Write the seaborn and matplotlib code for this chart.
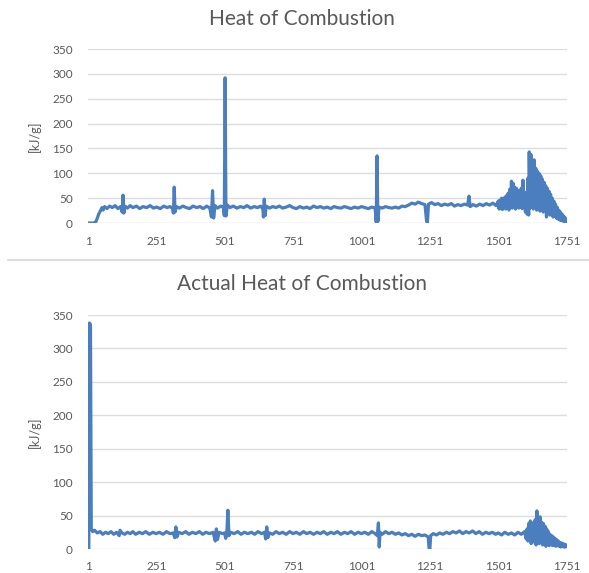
import matplotlib
matplotlib.use("Agg")
import matplotlib.pyplot as plt
from matplotlib.lines import Line2D
import pandas as pd
import seaborn as sns

# ---- data: sample number vs. heat of combustion [kJ/g] ----
heat_x = [1, 10, 20, 28, 34, 40, 46, 52, 56, 62, 70, 80, 90, 100, 110, 120, 126, 129, 132, 136,
          145, 155, 165, 178, 190, 202, 215, 228, 240, 252, 265, 278, 290, 300, 310, 313, 316, 319, 324,
          335, 348, 360, 372, 385, 398, 410, 422, 435, 446, 452, 456, 460, 465, 474, 486, 496, 499, 502,
          505, 510, 520, 532, 545, 558, 570, 582, 595, 608, 620, 632, 640, 642, 645, 648, 652, 664, 676,
          688, 700, 712, 725, 738, 750, 762, 775, 788, 800, 812, 825, 838, 850, 862, 875, 888, 900, 912,
          925, 938, 950, 962, 975, 988, 1000, 1012, 1025, 1038, 1050, 1054, 1057, 1060, 1064, 1076, 1088,
          1100, 1112, 1124, 1136, 1148, 1160, 1172, 1184, 1196, 1208, 1220, 1232, 1238, 1241, 1245, 1256,
          1268, 1280, 1292, 1304, 1316, 1328, 1340, 1352, 1364, 1376, 1388, 1393, 1397, 1408, 1420, 1432,
          1444, 1456, 1468, 1480, 1492, 1500, 1503, 1506, 1509, 1512, 1515, 1518, 1521, 1524, 1527, 1530,
          1533, 1536, 1539, 1542, 1545, 1548, 1551, 1554, 1557, 1560, 1563, 1566, 1569, 1572, 1575, 1578,
          1581, 1584, 1587, 1590, 1593, 1596, 1599, 1602, 1605, 1608, 1611, 1613, 1616, 1619, 1622, 1625,
          1628, 1631, 1634, 1637, 1640, 1643, 1646, 1649, 1652, 1655, 1658, 1661, 1664, 1667, 1670, 1673,
          1676, 1679, 1682, 1685, 1688, 1691, 1694, 1697, 1700, 1703, 1706, 1709, 1712, 1715, 1718, 1721,
          1724, 1727, 1730, 1733, 1736, 1739, 1742, 1745, 1748, 1751]
heat_y = [0, 0, 0, 1, 8, 18, 24, 31, 26, 33, 29, 34, 31, 35, 29, 33, 22, 56, 20, 34,
          30, 35, 31, 34, 29, 33, 31, 35, 30, 32, 29, 34, 31, 33, 30, 20, 72, 22, 33,
          30, 34, 31, 29, 34, 31, 33, 29, 34, 30, 12, 65, 10, 35, 30, 34, 31, 15, 292,
          14, 36, 31, 34, 30, 33, 31, 35, 30, 33, 31, 34, 28, 12, 48, 15, 34, 30, 33,
          31, 34, 30, 32, 35, 31, 29, 33, 30, 32, 29, 34, 31, 33, 30, 32, 29, 33, 31,
          30, 33, 31, 29, 32, 30, 33, 31, 29, 32, 30, 2, 135, 3, 32, 30, 33,
          31, 30, 32, 30, 34, 33, 36, 40, 38, 42, 39, 37, 4, 1, 38, 41,
          37, 39, 35, 38, 36, 39, 34, 37, 35, 38, 36, 54, 33, 37, 34, 38,
          35, 39, 36, 40, 35, 44, 28, 46, 30, 50, 27, 48, 31, 52, 28, 55,
          30, 60, 26, 68, 32, 84, 30, 80, 35, 72, 28, 70, 33, 66, 30, 62,
          34, 70, 29, 86, 32, 62, 22, 58, 18, 90, 16, 143, 30, 138, 34, 125,
          28, 127, 32, 110, 26, 104, 30, 100, 24, 95, 28, 88, 22, 82, 26, 75,
          12, 70, 20, 64, 16, 58, 18, 50, 12, 44, 14, 38, 10, 32, 8, 26,
          6, 22, 5, 18, 4, 14, 3, 10, 2, 6]

actual_x = [1, 4, 6, 10, 13, 18, 25, 35, 45, 55, 65, 75, 85, 95, 105, 115, 118, 125, 135, 145,
            155, 165, 175, 188, 200, 212, 225, 238, 250, 262, 275, 288, 300, 312, 318, 322, 326, 332,
            345, 358, 370, 382, 395, 408, 420, 432, 445, 458, 466, 470, 474, 480, 492, 500, 504, 508,
            512, 516, 522, 535, 548, 560, 572, 585, 598, 610, 622, 635, 646, 650, 654, 658, 664, 676,
            688, 700, 712, 725, 738, 750, 762, 775, 788, 800, 812, 825, 838, 850, 862, 875, 888, 900,
            912, 925, 938, 950, 962, 975, 988, 1000, 1012, 1025, 1038, 1050, 1058, 1062, 1065, 1068,
            1076, 1088, 1100, 1112, 1124, 1136, 1148, 1160, 1172, 1184, 1196, 1208, 1220, 1232, 1244,
            1247, 1250, 1253, 1262, 1274, 1286, 1298, 1310, 1322, 1334, 1346, 1358, 1370, 1382, 1394,
            1406, 1418, 1430, 1442, 1454, 1466, 1478, 1490, 1500, 1512, 1524, 1536, 1548, 1560, 1572,
            1584, 1596, 1602, 1605, 1608, 1611, 1614, 1617, 1620, 1623, 1626, 1629, 1632, 1635, 1638,
            1641, 1644, 1647, 1650, 1653, 1656, 1659, 1662, 1665, 1668, 1671, 1674, 1677, 1680, 1683,
            1686, 1689, 1692, 1695, 1698, 1701, 1704, 1707, 1710, 1713, 1716, 1719, 1722, 1725, 1728,
            1731, 1734, 1737, 1740, 1743, 1746, 1749, 1751]
actual_y = [0, 0, 338, 336, 30, 26, 28, 24, 26, 22, 25, 23, 26, 22, 25, 20, 28, 24, 22, 25,
            23, 26, 22, 25, 23, 26, 22, 25, 23, 25, 22, 26, 23, 24, 17, 33, 18, 25,
            23, 26, 22, 25, 23, 26, 22, 25, 23, 25, 12, 30, 14, 25, 23, 24, 16, 22,
            58, 20, 25, 23, 26, 22, 25, 23, 25, 22, 26, 23, 25, 15, 33, 17, 24, 22,
            26, 23, 25, 22, 26, 23, 25, 22, 26, 23, 25, 22, 25, 23, 26, 22, 25, 23,
            26, 22, 25, 23, 26, 22, 25, 23, 25, 22, 26, 23, 20, 39, 3, 25,
            22, 26, 23, 25, 22, 24, 21, 23, 20, 22, 19, 22, 20, 21, 18,
            1, 0, 20, 23, 21, 24, 22, 25, 23, 26, 24, 27, 23, 26, 24,
            27, 23, 26, 22, 25, 23, 25, 22, 24, 21, 25, 22, 24, 21, 25,
            22, 26, 15, 30, 12, 38, 18, 42, 8, 36, 14, 40, 10, 44, 6,
            57, 10, 42, 8, 48, 12, 40, 6, 38, 10, 34, 4, 30, 8, 26,
            5, 22, 8, 20, 5, 18, 6, 16, 4, 14, 5, 12, 4, 10, 3,
            9, 4, 8, 3, 7, 3, 6, 4]

x_ticks = [1, 251, 501, 751, 1001, 1251, 1501, 1751]
y_ticks = [0, 50, 100, 150, 200, 250, 300, 350]
titles = ["Heat of Combustion", "Actual Heat of Combustion"]
y_label = "[kJ/g]"

# ---- styling ----
sns.set_style("white")
plt.rcParams["font.family"] = ["Lato", "DejaVu Sans"]

W, H = 589, 573
LINE = "#4a7ebf"
GRID = "#dddddd"
TEXT = "#595959"

fig = plt.figure(figsize=(W / 100, H / 100), dpi=100)


def px_axes(left, top, right, bottom):
    return fig.add_axes([left / W, 1 - bottom / H, (right - left) / W, (bottom - top) / H])


panels = [
    dict(box=(88, 49, 567, 223), title_y=19, df=pd.DataFrame({"n": heat_x, "v": heat_y})),
    dict(box=(88, 315, 567, 549), title_y=284, df=pd.DataFrame({"n": actual_x, "v": actual_y})),
]

for p, title in zip(panels, titles):
    ax = px_axes(*p["box"])
    sns.lineplot(data=p["df"], x="n", y="v", ax=ax, color=LINE, linewidth=2.3,
                 estimator=None, sort=False)
    ax.set_xlim(1, 1751)
    ax.set_ylim(0, 350)
    ax.set_xticks(x_ticks)
    ax.set_yticks(y_ticks)
    ax.set_xticklabels([str(t) for t in x_ticks])
    ax.set_yticklabels([str(t) for t in y_ticks])
    ax.yaxis.grid(True, color=GRID, linewidth=1.0)
    ax.xaxis.grid(False)
    ax.set_axisbelow(True)
    for s in ax.spines.values():
        s.set_visible(False)
    ax.tick_params(axis="both", length=0, labelsize=8.5, labelcolor=TEXT)
    ax.tick_params(axis="y", pad=11)
    ax.tick_params(axis="x", pad=9)
    ax.set_xlabel("")
    ax.set_ylabel(y_label, fontsize=9, color=TEXT, labelpad=8)
    fig.text(302 / W, 1 - p["title_y"] / H, title, ha="center", va="center",
             fontsize=15, color=TEXT)

# separator between the two charts
fig.add_artist(Line2D([8 / W, 1.0], [1 - 260 / H, 1 - 260 / H], color=GRID, linewidth=1.5))

fig.savefig("out.png", dpi=100)
